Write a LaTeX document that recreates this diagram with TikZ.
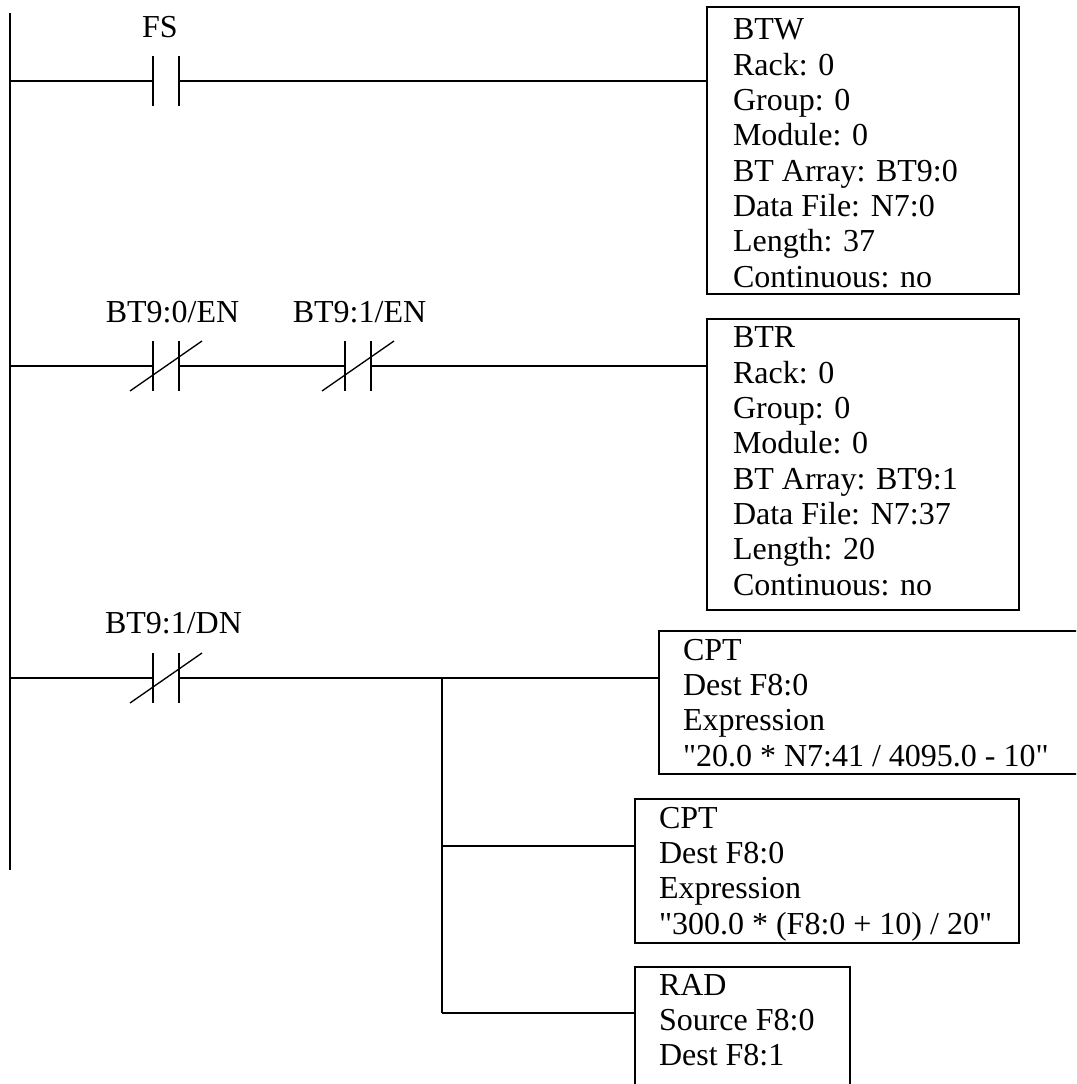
\documentclass[tikz,border=0pt]{standalone}
\usepackage{fontspec}
\setmainfont{Liberation Serif}[Ligatures=TeXOff]
\usetikzlibrary{positioning}

\begin{document}
\begin{tikzpicture}[x=0.75pt, y=-0.75pt, line width=1.5pt,
   plate/.style={minimum width=18pt, minimum height=36pt, inner sep=0pt},
   tag/.style={font=\fontsize{24pt}{26pt}\selectfont, inner sep=0pt, anchor=base},
   block/.style={draw, anchor=north west, inner sep=0pt},
   listing/.style={font=\fontsize{24pt}{26.5pt}\selectfont, align=left, inner sep=0pt, anchor=north west}]
  \useasboundingbox (0,0) rectangle (1076,1084);
  \clip (0,0) rectangle (1076,1084);
  % power rail
  \coordinate (railtop) at (10,13);
  \coordinate (railend) at (10,870);
  \draw (railtop) -- (railend);
  % contacts: name / centre / label / label position
  \foreach \c/\x/\y/\lab/\lx/\ly in {%
    fs/166/81/FS/160/38,%
    enzero/166/366/{BT9:0/EN}/172.5/322,%
    enone/358/366/{BT9:1/EN}/359.5/322,%
    dn/166/678/{BT9:1/DN}/173.5/633}{%
      \node[plate] (\c) at (\x,\y) {};
      \node[tag] (\c tag) at (\lx,\ly) {\lab};
      \draw (\c.north west) -- (\c.south west);
      \draw (\c.north east) -- (\c.south east);
  }
  % normally closed slashes
  \foreach \c in {enzero, enone, dn}{%
    \coordinate (\c low) at ([xshift=-27pt]\c.south);
    \coordinate (\c high) at ([xshift=27pt]\c.north);
    \draw[line width=1pt] (\c low) -- (\c high);
  }
  % instruction blocks: name / x / y / width / height
  \foreach \b/\x/\y/\w/\h in {%
    btw/706/6/312/287,%
    btr/706/318/312/291,%
    cptone/658/630/500/143,%
    cpttwo/634/798/384/144,%
    rad/634/966/215/160}{%
      \node[block, minimum width=\w*0.75pt, minimum height=\h*0.75pt] (\b) at (\x,\y) {};
  }
  % block listings
  \node[listing] (btwtext) at (732,18) {BTW\\Rack: 0\\Group: 0\\Module: 0\\BT Array: BT9:0\\Data File: N7:0\\Length: 37\\Continuous: no};
  \node[listing] (btrtext) at (732,326) {BTR\\Rack: 0\\Group: 0\\Module: 0\\BT Array: BT9:1\\Data File: N7:37\\Length: 20\\Continuous: no};
  \node[listing] (cptonetext) at (682,638) {CPT\\Dest F8:0\\Expression\\"20.0 * N7:41 / 4095.0 - 10"};
  \node[listing] (cpttwotext) at (658,806) {CPT\\Dest F8:0\\Expression\\"300.0 * (F8:0 + 10) / 20"};
  \node[listing] (radtext) at (658,973) {RAD\\Source F8:0\\Dest F8:1};
  % rungs
  \coordinate (rungone) at (10,81);
  \coordinate (rungtwo) at (10,366);
  \coordinate (rungthree) at (10,678);
  \coordinate (branch) at (442,678);
  \coordinate (branchmid) at (442,846);
  \coordinate (branchend) at (442,1013);
  \draw (rungone) -- (fs.west);
  \draw (fs.east) -- (fs.east -| btw.west);
  \draw (rungtwo) -- (enzero.west);
  \draw (enzero.east) -- (enone.west);
  \draw (enone.east) -- (enone.east -| btr.west);
  \draw (rungthree) -- (dn.west);
  \draw (dn.east) -- (branch);
  \draw (branch) -- (branch -| cptone.west);
  \draw (branch) -- (branchend);
  \draw (branchmid) -- (branchmid -| cpttwo.west);
  \draw (branchend) -- (branchend -| rad.west);
\end{tikzpicture}
\end{document}
